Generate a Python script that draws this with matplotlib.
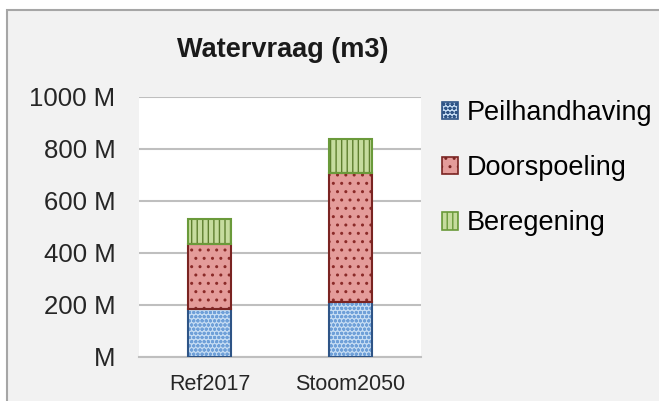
import matplotlib
matplotlib.use("Agg")
import matplotlib.pyplot as plt
from matplotlib.patches import Rectangle, Patch
import numpy as np

plt.rcParams['font.family'] = ['Liberation Sans', 'DejaVu Sans']
plt.rcParams['hatch.linewidth'] = 1.0

categories = ["Ref2017", "Stoom2050"]
series_names = ["Peilhandhaving", "Doorspoeling", "Beregening"]
peilhandhaving = [183, 213]   # millions m3
doorspoeling = [252, 496]
beregening = [95, 128]
yticks = [0, 200, 400, 600, 800, 1000]
ytick_labels = ["M", "200 M", "400 M", "600 M", "800 M", "1000 M"]
title = "Watervraag (m3)"

face_colors = ["#c5dcf3", "#e49c9a", "#c6dc9e"]
hatch_colors = ["#6fa0d8", "#8a2a28", "#5e7f2e"]
edge_colors = ["#2e5486", "#7a2422", "#6a9a3a"]
hatches = ["oooo", "..", "|||"]

W, H = 659, 401
fig = plt.figure(figsize=(W / 100, H / 100), dpi=100)
fig.patch.set_facecolor("white")
bg = Rectangle((7 / W, -0.1), 1.2, (H - 10) / H + 0.1,
               transform=fig.transFigure, facecolor="#f2f2f2",
               edgecolor="#a6a6a6", linewidth=1.5, zorder=-5)
fig.patches.append(bg)

ax = fig.add_axes([139 / W, (H - 357) / H, 282 / W, 260 / H])
ax.set_zorder(2)
ax.set_facecolor("white")
x = np.arange(len(categories))
width = 0.30
bottom = np.zeros(len(categories))
for vals, fc, hc, ec, ht in zip([peilhandhaving, doorspoeling, beregening],
                                face_colors, hatch_colors, edge_colors, hatches):
    ax.bar(x, vals, width, bottom=bottom, facecolor=fc, edgecolor=hc,
           hatch=ht, linewidth=0, zorder=3)
    ax.bar(x, vals, width, bottom=bottom, facecolor="none", edgecolor=ec,
           linewidth=1.5, zorder=4)
    bottom += np.array(vals)

ax.set_xlim(-0.5, 1.5)
ax.set_ylim(0, 1000)
ax.set_yticks(yticks)
ax.set_yticklabels(ytick_labels, fontsize=18.5, color="#262626")
ax.set_xticks(x)
ax.set_xticklabels(categories, fontsize=15.5, color="#262626")
ax.tick_params(axis="y", length=0, pad=17)
ax.tick_params(axis="x", length=0, pad=12)
for s in ["top", "right", "left"]:
    ax.spines[s].set_visible(False)
ax.spines["bottom"].set_color("#bfbfbf")
ax.spines["bottom"].set_linewidth(1.5)
ax.yaxis.grid(True, color="#bfbfbf", linewidth=1.5, zorder=0)
ax.set_axisbelow(True)

fig.text(283 / W, 1 - 50 / H, title, ha="center", va="center",
         fontsize=19.5, fontweight="bold", color="#1a1a1a", zorder=3)

handles = [Patch(facecolor=fc, edgecolor=ec, hatch=ht, linewidth=1.2)
           for fc, ec, ht in zip(face_colors, edge_colors, hatches)]
leg = fig.legend(handles, series_names, loc="upper left",
                 bbox_to_anchor=(442 / W, 1 - 100 / H), frameon=False,
                 fontsize=19.5, handlelength=0.6, handleheight=0.6,
                 handletextpad=0.3, labelspacing=1.08, borderaxespad=0,
                 borderpad=0)
leg.set_zorder(3)

fig.savefig("out.png", dpi=100)
